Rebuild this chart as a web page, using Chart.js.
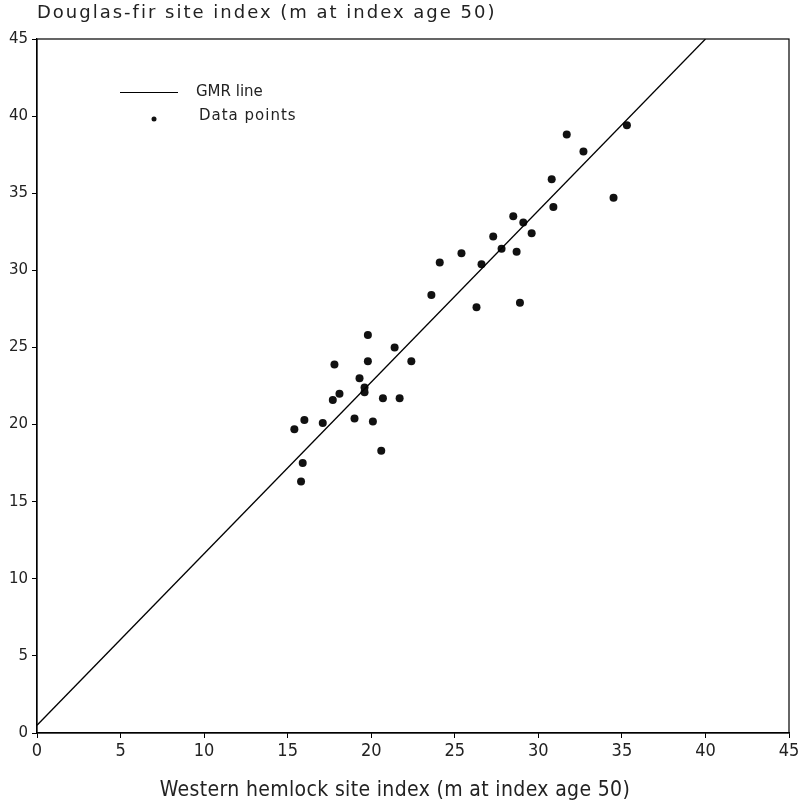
<!DOCTYPE html>
<html><head><meta charset="utf-8">
<script src="https://cdn.jsdelivr.net/npm/chart.js@4/dist/chart.umd.min.js"></script>
<style>html,body{margin:0;padding:0;background:#fff}#wrap{width:804px;height:807px}</style>
</head><body><div id="wrap"><canvas id="c" width="804" height="807"></canvas></div>
<script>
// Western hemlock site index (x) and Douglas-fir site index (y), m at index age 50
const hemlockSI = [35.3, 31.7, 32.7, 30.8, 30.9, 34.5, 28.5, 29.1, 27.3, 29.6, 27.8, 25.4, 28.7, 24.1, 26.6, 23.6, 26.3, 28.9,
                   19.8, 21.4, 19.8, 17.8, 22.4, 19.3, 19.6, 19.6, 18.1, 17.7, 20.7, 21.7, 19.0, 20.1, 16.0, 17.1, 15.4, 20.6, 15.9, 15.8];
const douglasSI = [39.4, 38.8, 37.7, 35.9, 34.1, 34.7, 33.5, 33.1, 32.2, 32.4, 31.4, 31.1, 31.2, 30.5, 30.4, 28.4, 27.6, 27.9,
                   25.8, 25.0, 24.1, 23.9, 24.1, 23.0, 22.4, 22.1, 22.0, 21.6, 21.7, 21.7, 20.4, 20.2, 20.3, 20.1, 19.7, 18.3, 17.5, 16.3];
// GMR line end points
const gmrX = [0, 40];
const gmrY = [0.5, 45];
const tickValues = [0, 5, 10, 15, 20, 25, 30, 35, 40, 45];
const xTitle = 'Western hemlock site index (m at index age 50)';
const yTitle = 'Douglas-fir site index (m at index age 50)';
const legendLabels = ['GMR line', 'Data points'];

const scatterPts = hemlockSI.map((x, i) => ({x: x, y: douglasSI[i]}));
const linePts = gmrX.map((x, i) => ({x: x, y: gmrY[i]}));

const wideFont = '"DejaVu Sans", Verdana, sans-serif';
const narrowFont = '"Liberation Sans Narrow", "Arial Narrow", "DejaVu Sans Condensed", sans-serif';

function setSpacing(ctx, v) { try { ctx.letterSpacing = v; } catch (e) {} }

const framePlugin = {
  id: 'frame',
  afterDraw(chart) {
    const ctx = chart.ctx, a = chart.chartArea;
    ctx.save();
    ctx.strokeStyle = '#000';
    ctx.lineWidth = 1.2;
    ctx.strokeRect(a.left, a.top, a.right - a.left, a.bottom - a.top);
    ctx.fillStyle = '#222';
    ctx.textBaseline = 'middle';
    // y title at top-left
    ctx.font = '18px ' + wideFont;
    setSpacing(ctx, '2px');
    ctx.textAlign = 'left';
    ctx.fillText(yTitle, a.left, a.top - 26);
    // x title at bottom
    ctx.font = '21px ' + narrowFont;
    setSpacing(ctx, '0.35px');
    ctx.textAlign = 'center';
    ctx.fillText(xTitle, 395, a.bottom + 58);
    // legend
    ctx.textAlign = 'left';
    ctx.font = '15px ' + wideFont;
    const lds = chart.data.datasets[0], sds = chart.data.datasets[1];
    ctx.strokeStyle = lds.borderColor;
    ctx.lineWidth = 1;
    ctx.beginPath();
    ctx.moveTo(a.left + 83, a.top + 53.5);
    ctx.lineTo(a.left + 141, a.top + 53.5);
    ctx.stroke();
    setSpacing(ctx, '0px');
    ctx.fillText(legendLabels[0], a.left + 159, a.top + 53);
    ctx.fillStyle = sds.backgroundColor;
    ctx.beginPath();
    ctx.arc(a.left + 117, a.top + 80, 2.5, 0, Math.PI * 2);
    ctx.fill();
    ctx.fillStyle = '#222';
    setSpacing(ctx, '1px');
    ctx.fillText(legendLabels[1], a.left + 162, a.top + 77);
    ctx.restore();
  }
};

new Chart(document.getElementById('c'), {
  type: 'scatter',
  data: {
    datasets: [
      {type: 'line', label: legendLabels[0], data: linePts, borderColor: '#000', borderWidth: 1.3,
       pointRadius: 0, fill: false, tension: 0},
      {label: legendLabels[1], data: scatterPts, backgroundColor: '#111', borderColor: '#111',
       pointRadius: 4, borderWidth: 0}
    ]
  },
  options: {
    responsive: false,
    animation: false,
    devicePixelRatio: 1,
    layout: {padding: {top: 39, right: 15, left: 0, bottom: 0}},
    plugins: {legend: {display: false}, tooltip: {enabled: false}},
    scales: {
      x: {
        type: 'linear', min: 0, max: 45,
        afterBuildTicks(s) { s.ticks = tickValues.map(v => ({value: v})); },
        afterFit(s) { s.height = 74; },
        grid: {drawOnChartArea: false, drawTicks: true, tickLength: 5, color: '#000', lineWidth: 1},
        border: {color: '#000', width: 1.2},
        ticks: {autoSkip: false, maxRotation: 0, padding: 3, color: '#222',
                font: {family: narrowFont, size: 18}},
        title: {display: false, text: xTitle}
      },
      y: {
        type: 'linear', min: 0, max: 45,
        afterBuildTicks(s) { s.ticks = tickValues.map(v => ({value: v})); },
        afterFit(s) { s.width = 37; },
        grid: {drawOnChartArea: false, drawTicks: true, tickLength: 5, color: '#000', lineWidth: 1},
        border: {color: '#000', width: 1.2},
        ticks: {autoSkip: false, padding: 4, color: '#222',
                font: {family: wideFont, size: 15}}
      }
    }
  },
  plugins: [framePlugin]
});
</script>
</body></html>
